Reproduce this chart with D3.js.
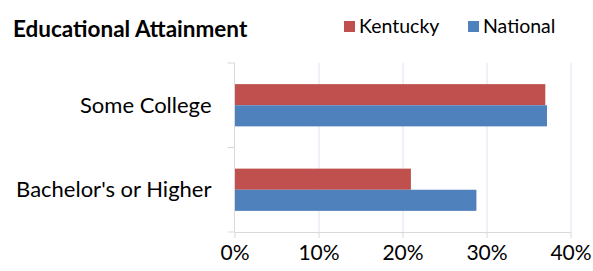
<!DOCTYPE html>
<meta charset="utf-8">
<title>Educational Attainment</title>
<script src="https://d3js.org/d3.v7.min.js"></script>
<style>
html, body {
	margin: 0;
	overflow: hidden;
	background: #fff;
}
svg {
	display: block;
}
</style>
<body>
<script>
const categories = ["Some College", "Bachelor's or Higher"];
const serieNames = ['Kentucky', 'National'];
const kentucky = [0.370, 0.210];
const national = [0.372, 0.288];
const tickValues = [0, 0.1, 0.2, 0.3, 0.4];

const colors = ['#c0504d', '#4f81bd'];
const gridColor = '#dce4f0';
const axisColor = '#d9d9d9';
const textColor = '#000';
const fontFamily = 'Lato, sans-serif';

const width = 593;
const height = 271;
const margin = {top: 63, right: 22.5, bottom: 39, left: 234.5};
const innerWidth = width - margin.left - margin.right;
const innerHeight = height - margin.top - margin.bottom;

const rows = categories.map((c, i) => ({
	key: c,
	values: [kentucky[i], national[i]],
}));

const svg = d3.select('body')
	.append('svg')
		.attr('width', width)
		.attr('height', height)
		.attr('font-family', fontFamily);

// Title
svg.append('text')
	.attr('x', 13)
	.attr('y', 37)
	.attr('font-size', 22.5)
	.attr('font-weight', 'bold')
	.attr('fill', textColor)
	.text('Educational Attainment');

// Legend
const legendX = [344, 468];
const legend = svg.append('g')
	.selectAll('g')
	.data(serieNames)
	.join('g')
		.attr('transform', (d, i) => `translate(${legendX[i]}, 21)`);
legend.append('rect')
	.attr('width', 11)
	.attr('height', 11)
	.attr('fill', (d, i) => colors[i]);
legend.append('text')
	.attr('x', 15)
	.attr('y', 12)
	.attr('font-size', 19.5)
	.attr('fill', textColor)
	.text(d => d);

const g = svg.append('g')
	.attr('transform', `translate(${margin.left}, ${margin.top})`);

// Scales
const x = d3.scaleLinear()
	.domain([0, 0.4])
	.range([0, innerWidth]);
const y = d3.scaleBand()
	.domain(categories)
	.range([0, innerHeight])
	.paddingInner(0.5)
	.paddingOuter(0.25);
const ySerie = d3.scaleBand()
	.domain(d3.range(serieNames.length))
	.range([0, y.bandwidth()]);

// Gridlines
g.append('g')
	.selectAll('line')
	.data(tickValues.slice(1))
	.join('line')
		.attr('x1', d => Math.round(x(d)) + 0.5)
		.attr('x2', d => Math.round(x(d)) + 0.5)
		.attr('y1', 0)
		.attr('y2', innerHeight)
		.attr('stroke', gridColor);

// Bars
const groups = g.append('g')
	.selectAll('g')
	.data(rows)
	.join('g')
		.attr('transform', d => `translate(0, ${y(d.key)})`);
groups.selectAll('rect')
	.data(d => d.values)
	.join('rect')
		.attr('x', 0)
		.attr('y', (d, i) => ySerie(i))
		.attr('width', d => x(d))
		.attr('height', ySerie.bandwidth())
		.attr('fill', (d, i) => colors[i]);

// Bottom axis
const bottomAxis = g.append('g')
	.attr('transform', `translate(0, ${innerHeight})`)
	.call(
		d3.axisBottom(x)
			.tickValues(tickValues)
			.tickFormat(d3.format('.0%'))
			.tickSizeInner(6)
			.tickSizeOuter(0)
			.tickPadding(7)
	);
bottomAxis.selectAll('.domain, line').attr('stroke', axisColor);
bottomAxis.selectAll('text')
	.attr('font-family', fontFamily)
	.attr('font-size', 21)
	.attr('fill', textColor);

// Left axis, with ticks between categories
const bandEdges = [0, innerHeight / 2, innerHeight];
const leftAxis = g.append('g');
leftAxis.append('line')
	.attr('x1', 0)
	.attr('x2', 0)
	.attr('y1', 0)
	.attr('y2', innerHeight)
	.attr('stroke', axisColor);
leftAxis.selectAll('.edge')
	.data(bandEdges)
	.join('line')
		.attr('class', 'edge')
		.attr('x1', -7)
		.attr('x2', 0)
		.attr('y1', d => d)
		.attr('y2', d => d)
		.attr('stroke', axisColor);
leftAxis.selectAll('text')
	.data(categories)
	.join('text')
		.attr('x', -23)
		.attr('y', d => y(d) + y.bandwidth() / 2)
		.attr('dy', '0.35em')
		.attr('text-anchor', 'end')
		.attr('font-size', 22)
		.attr('fill', textColor)
		.text(d => d);
</script>
</body>
